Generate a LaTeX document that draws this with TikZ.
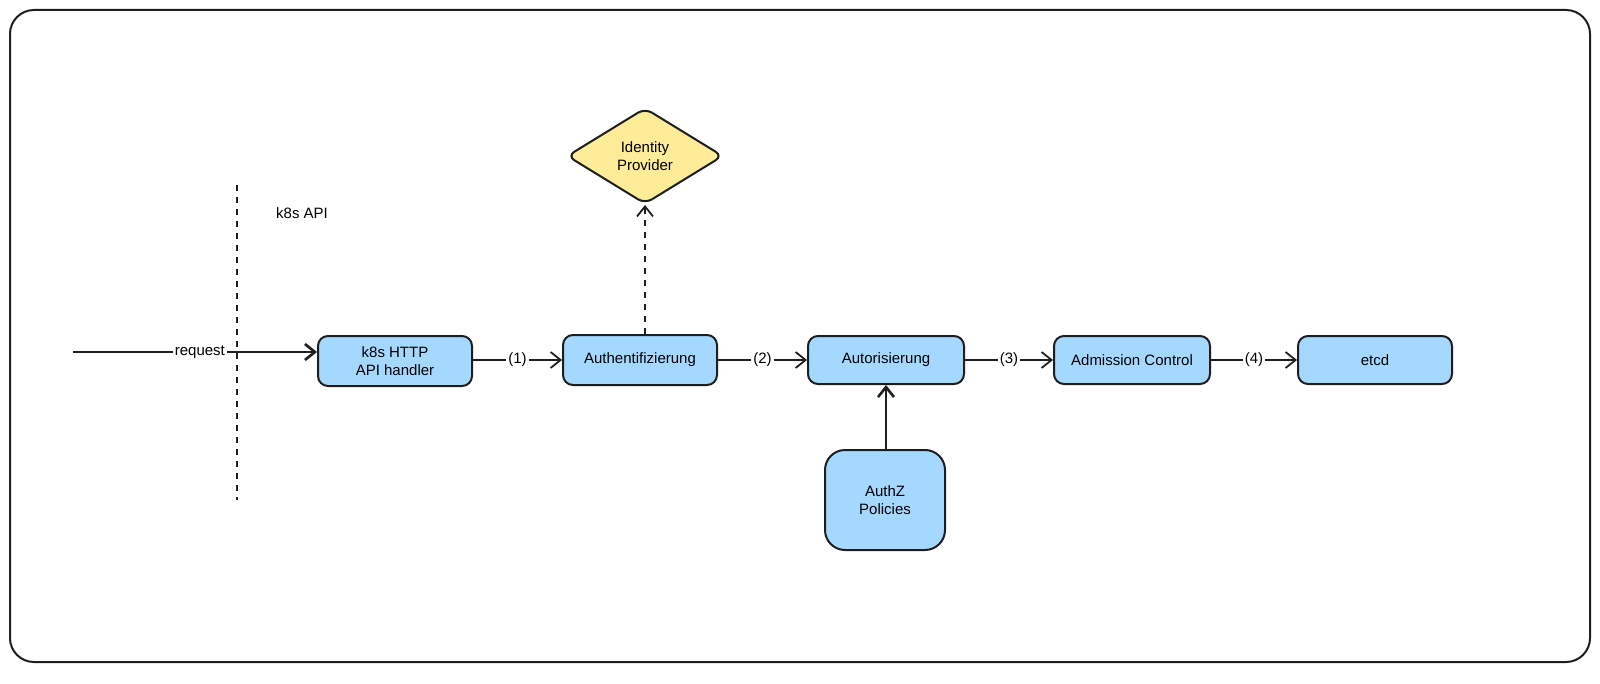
\documentclass[tikz,border=0pt]{standalone}
\usepackage{fontspec}
\setmainfont{Liberation Sans}
\usetikzlibrary{shapes.geometric,arrows.meta}
\definecolor{bl}{HTML}{A5D8FF}
\definecolor{yl}{HTML}{FFEC99}
\definecolor{ink}{HTML}{1E1E1E}
\begin{document}
\begin{tikzpicture}[x=0.5pt,y=-0.5pt,
 box/.style={draw=ink,fill=bl,rounded corners=5pt,line width=1pt,minimum width=77pt,minimum height=25pt,align=center,font=\fontsize{7.5}{9}\selectfont,inner sep=1pt},
 arr/.style={draw=ink,line width=0.9pt,-{Straight Barb[length=5pt,width=8pt]}},
 lab/.style={font=\fontsize{7.5}{9}\selectfont,fill=white,inner sep=1pt}]
\useasboundingbox (0,0) rectangle (1600,684);
\draw[ink,line width=1pt,rounded corners=12pt] (10,10) rectangle (1590,662);
\draw[ink,dashed,line width=0.9pt] (237,185) -- (237,500);
\node[font=\fontsize{7.5}{9}\selectfont] (api) at (302,213) {k8s API};
\node[box] (h) at (395,361) {k8s HTTP\\API handler};
\node[box] (an) at (640,360) {Authentifizierung};
\node[box,minimum width=78pt,minimum height=24pt] (az) at (886,360) {Autorisierung};
\node[box,minimum width=78pt,minimum height=24pt] (ac) at (1132,360) {Admission Control};
\node[box,minimum width=77pt,minimum height=24pt] (et) at (1375,360) {etcd};
\node[box,minimum width=60pt,minimum height=50pt,rounded corners=10pt] (p) at (885,500) {AuthZ\\Policies};
\node[diamond,draw=ink,fill=yl,line width=1pt,minimum width=78pt,minimum height=48pt,aspect=1.6,align=center,inner sep=0pt,font=\fontsize{7.5}{9}\selectfont,rounded corners=4pt] (idp) at (645,156) {Identity\\Provider};
\coordinate (s) at (73,352);
\draw[arr,line width=1.3pt] (s) -- node[lab,pos=0.52]{request} (h.west|-s);
\draw[arr] (h.east|-an.west) -- node[lab]{(1)} (an.west);
\draw[arr] (an.east) -- node[lab]{(2)} (az.west);
\draw[arr] (az.east) -- node[lab]{(3)} (ac.west);
\draw[arr] (ac.east) -- node[lab]{(4)} (et.west);
\draw[arr,line width=1.3pt] (p.north-|az) -- (az.south);
\draw[arr,dashed] (an.north-|idp) -- (idp.south);
\end{tikzpicture}
\end{document}
